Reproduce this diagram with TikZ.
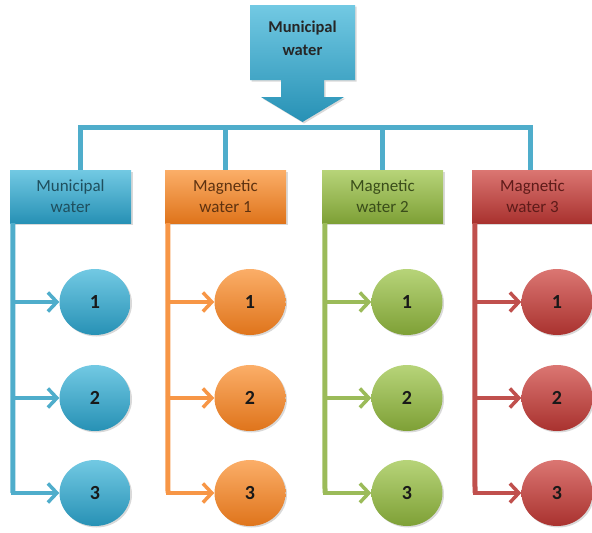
\documentclass[tikz,border=0pt]{standalone}
\usepackage{fontspec}
\setmainfont{Carlito}
\usetikzlibrary{arrows.meta,shadows,shapes.geometric,calc}
\definecolor{cB}{HTML}{3BAED2}\definecolor{cBl}{HTML}{72C9E3}\definecolor{cBd}{HTML}{2791B5}\definecolor{tB}{HTML}{1F4F5E}\definecolor{wB}{HTML}{4FADCB}
\definecolor{cO}{HTML}{F79436}\definecolor{cOl}{HTML}{FBAE68}\definecolor{cOd}{HTML}{DF741B}\definecolor{tO}{HTML}{5E3210}\definecolor{wO}{HTML}{F79646}
\definecolor{cG}{HTML}{9BC048}\definecolor{cGl}{HTML}{B7D479}\definecolor{cGd}{HTML}{7EA036}\definecolor{tG}{HTML}{3A4D1A}\definecolor{wG}{HTML}{9BBB59}
\definecolor{cR}{HTML}{C9413D}\definecolor{cRl}{HTML}{DB7672}\definecolor{cRd}{HTML}{A9322F}\definecolor{tR}{HTML}{5E1B19}\definecolor{wR}{HTML}{C0504D}
\tikzset{
  shd/.style={drop shadow={opacity=0.3,shadow xshift=1.5pt,shadow yshift=-1.5pt}},
  catbox/.style={rectangle,minimum width=121pt,minimum height=53pt,inner sep=0pt,align=center,
    font=\fontsize{17}{21}\selectfont,shd},
  ball/.style={ellipse,minimum width=71pt,minimum height=66pt,inner sep=0pt,
    font=\bfseries\fontsize{20}{22}\selectfont,text=black!90,shd},
  wire/.style={line width=5pt},
  arr/.style={line width=4pt,-{Straight Barb[length=9pt,width=19pt,line width=3.5pt]}},
}
\begin{document}
\begin{tikzpicture}[x=1pt,y=-1pt]
\useasboundingbox (0,0) rectangle (592,533);
% top arrow shape
\path[top color=cBl,middle color=cB,bottom color=cBd,shd]
  (250,5)--(355,5)--(355,80)--(324,80)--(324,97)--(344,97)--(302.5,122)--(261,97)--(281,97)--(281,80)--(250,80)--cycle;
\node[align=center,font=\bfseries\fontsize{16.5}{23}\selectfont,text=black!85] (top) at (302.5,38) {Municipal\\water};
% category boxes
\foreach \i/\L/\c/\t/\lab in {1/10/B/tB/{Municipal\\water},2/165/O/tO/{Magnetic\\water 1},3/322/G/tG/{Magnetic\\water 2},4/472/R/tR/{Magnetic\\water 3}}{
  \node[catbox,top color=c\c l,middle color=c\c,bottom color=c\c d,text=\t] (b\i) at (\L+60.5,196.5) {\lab};
  \coordinate (v\i) at (\L+3,0);
  \foreach \j/\y in {1/302,2/398,3/493}{
    \node[ball,top color=c\c l,middle color=c\c,bottom color=c\c d] (c\i\j) at (\L+85,\y) {\j};
  }
  \draw[wire,w\c] ([xshift=3pt]b\i.south west) -- (v\i |- c\i3.west);
  \foreach \j in {1,2,3}{
    \draw[arr,w\c] ([xshift=-2.5pt]v\i |- c\i\j.west) -- (c\i\j.west);
  }
}
% bus
\coordinate (bus1) at (80,127);
\coordinate (bus4) at (530,127);
\draw[wire,wB] (b1.north -| bus1) -- (bus1) -- (bus4) -- (b4.north -| bus4);
\draw[wire,wB] (b2.north) -- (b2.north |- bus1);
\draw[wire,wB] (b3.north) -- (b3.north |- bus1);
\end{tikzpicture}
\end{document}
